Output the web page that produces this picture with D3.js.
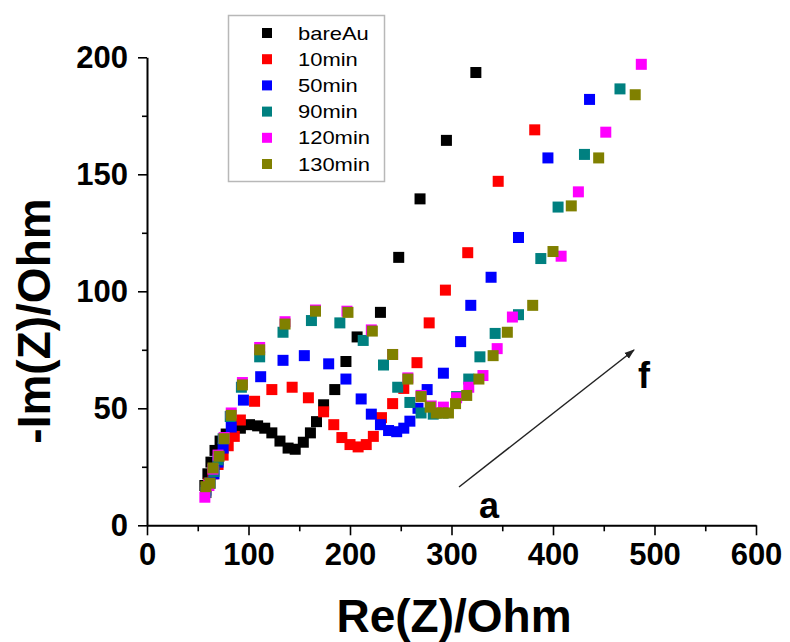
<!DOCTYPE html>
<html>
<head>
<meta charset="utf-8">
<script src="https://cdn.jsdelivr.net/npm/d3@7"></script>
<style>
  html, body { margin: 0; padding: 0; background: #fff; }
  svg { display: block; font-family: Arial, "Liberation Sans", sans-serif; }
</style>
</head>
<body>
<svg id="chart" width="790" height="642"></svg>
<script>
// ---- data ----
const seriesNames = ["bareAu", "10min", "50min", "90min", "120min", "130min"];
const seriesColors = ["#000000", "#ff0000", "#0000ff", "#008080", "#ff00ff", "#808000"];

const bareRe = [57, 60, 63, 67, 72, 78, 85, 92, 101, 109, 116, 123, 131, 139, 146, 154, 161, 167, 174, 185, 196, 207, 230, 248, 269, 295, 324];
const bareIm = [17, 22, 27, 32, 36, 39, 41, 41.5, 43, 42.5, 41.5, 39.5, 36, 33, 32.5, 35.5, 39.5, 44.3, 51.5, 58, 70, 80.5, 91, 114.5, 139.5, 164.5, 193.5];

const redRe = [58, 61, 65, 70, 75, 80, 86, 92, 106, 123, 143, 159, 174, 184, 192, 200, 208, 216, 223, 231, 242, 253, 266, 278, 294, 316, 346, 382];
const redIm = [14, 18, 22, 26, 30, 34, 38, 45, 53, 58, 59, 54.5, 48.5, 43, 37.5, 34.5, 33.5, 34.5, 38, 46, 52, 58.5, 69.5, 86.5, 100.5, 116.5, 147, 169];

const blueRe = [58, 62, 66, 70, 75, 83, 95, 112, 134, 155, 179, 196, 211, 221, 230, 238, 246, 253, 259, 267, 276, 292, 309, 319, 339, 366, 395, 436];
const blueIm = [15, 18, 22, 27, 33, 42, 53.5, 63.5, 70.5, 72.5, 69, 62.5, 54, 47.5, 43, 40.5, 40, 41.5, 44.5, 50, 58, 65, 78.5, 94, 106, 123, 157, 182];

const tealRe = [58, 62, 66, 70, 75, 82, 93, 111, 134, 162, 190, 213, 233, 247, 259, 270, 282, 292, 305, 317, 328, 343, 366, 388, 405, 431, 466];
const tealIm = [14, 18, 23, 28, 37, 46.5, 59, 72, 82.5, 87.5, 86.5, 79, 68.5, 59, 52.5, 48, 47.5, 48, 55, 62.5, 72, 82, 90, 114, 136, 158.5, 186.5];

const magRe = [57, 61, 65, 70, 76, 83, 94, 111, 136, 166, 197, 221, 242, 257, 270, 280, 292, 305, 317, 331, 345, 360, 408, 425, 452, 487];
const magIm = [12, 17, 24, 30, 37.5, 48, 61, 76, 87, 92, 91.5, 83.5, 73, 63, 55.5, 51, 50.5, 54.5, 59, 64, 75.5, 89, 115, 142.5, 168, 197];

const oliveRe = [58, 62, 65, 71, 76, 83, 94, 111, 136, 166, 198, 222, 242, 257, 270, 279, 285, 291, 297, 304, 315, 327, 341, 355, 380, 400, 418, 445, 481];
const oliveIm = [16.5, 18, 24.5, 29.5, 37, 47, 60, 75, 86, 91.5, 91, 83, 73, 62.5, 55, 50.5, 48, 48, 48, 52, 55.5, 62.5, 72.5, 82.5, 94, 117, 136.5, 157, 184];

const xMajorTicks = [0, 100, 200, 300, 400, 500, 600];
const xMinorTicks = [50, 150, 250, 350, 450, 550];
const yMajorTicks = [0, 50, 100, 150, 200];
const yMinorTicks = [25, 75, 125, 175];

const xTitle = "Re(Z)/Ohm";
const yTitle = "-Im(Z)/Ohm";

// ---- build ----
const seriesRe = [bareRe, redRe, blueRe, tealRe, magRe, oliveRe];
const seriesIm = [bareIm, redIm, blueIm, tealIm, magIm, oliveIm];
const series = seriesNames.map((name, i) => ({
  name, color: seriesColors[i],
  points: seriesRe[i].map((r, j) => ({ x: r, y: seriesIm[i][j] }))
}));

const svg = d3.select("#chart");
const x = d3.scaleLinear().domain([0, 600]).range([147, 756]);
const y = d3.scaleLinear().domain([0, 200]).range([525.3, 57.3]);

// markers
const M = 11;
series.forEach(s => {
  svg.append("g").selectAll("rect").data(s.points).join("rect")
    .attr("x", d => x(d.x) - M / 2)
    .attr("y", d => y(d.y) - M / 2)
    .attr("width", M).attr("height", M)
    .attr("fill", s.color);
});

// axes
const x0 = x.range()[0], y0 = y.range()[0];
const xAxisG = svg.append("g").attr("transform", `translate(0,${y0})`);
xAxisG.call(d3.axisBottom(x).tickValues(xMajorTicks).tickSize(10).tickSizeOuter(0).tickPadding(6).tickFormat(d3.format("d")));
xAxisG.append("g").call(d3.axisBottom(x).tickValues(xMinorTicks).tickSize(6).tickFormat(""))
  .call(g => g.select(".domain").remove());

const yAxisG = svg.append("g").attr("transform", `translate(${x0},0)`);
yAxisG.call(d3.axisLeft(y).tickValues(yMajorTicks).tickSize(9).tickSizeOuter(0).tickPadding(10).tickFormat(d3.format("d")));
yAxisG.append("g").call(d3.axisLeft(y).tickValues(yMinorTicks).tickSize(5).tickFormat(""))
  .call(g => g.select(".domain").remove());

svg.selectAll(".domain").attr("stroke", "#000").attr("stroke-width", 2);
svg.selectAll(".tick line").attr("stroke", "#000").attr("stroke-width", 1.6);
svg.selectAll(".tick text").attr("fill", "#000").style("font-size", "31px").style("font-weight", "bold")
  .style("font-family", "Arial, 'Liberation Sans', sans-serif");
xAxisG.selectAll(".tick text").attr("dy", "0.75em");

// axis titles
svg.append("text").attr("x", 454).attr("y", 632).attr("text-anchor", "middle")
  .style("font-size", "46px").style("font-weight", "bold").text(xTitle);
svg.append("text").attr("transform", "translate(50,321) rotate(-90)").attr("text-anchor", "middle")
  .style("font-size", "46px").style("font-weight", "bold").text(yTitle);

// legend
const lg = svg.append("g");
lg.append("rect").attr("x", 228.5).attr("y", 15.5).attr("width", 156).attr("height", 166)
  .attr("fill", "#fff").attr("stroke", "#b8b8b8").attr("stroke-width", 1.5);
const rowY = d3.scaleLinear().domain([0, 5]).range([33, 164]);
series.forEach((s, i) => {
  lg.append("rect").attr("x", 267 - 5).attr("y", rowY(i) - 5).attr("width", 10).attr("height", 10).attr("fill", s.color);
  lg.append("text").attr("transform", `translate(298,${rowY(i) + 6.5}) scale(1.22,1)`)
    .style("font-size", "18px").attr("fill", "#000").text(s.name);
});

// arrow annotation a -> f
const defs = svg.append("defs");
defs.append("marker").attr("id", "ah").attr("viewBox", "0 0 10 10").attr("refX", 9).attr("refY", 5)
  .attr("markerWidth", 7).attr("markerHeight", 7).attr("orient", "auto")
  .append("path").attr("d", "M0,1.5 L10,5 L0,8.5 Z").attr("fill", "#222");
svg.append("line").attr("x1", 459).attr("y1", 487).attr("x2", 634).attr("y2", 350)
  .attr("stroke", "#222").attr("stroke-width", 1.5).attr("marker-end", "url(#ah)");
svg.append("text").attr("x", 489).attr("y", 518).attr("text-anchor", "middle")
  .style("font-size", "36px").style("font-weight", "bold").text("a");
svg.append("text").attr("x", 644).attr("y", 388).attr("text-anchor", "middle")
  .style("font-size", "36px").style("font-weight", "bold").text("f");
</script>
</body>
</html>
